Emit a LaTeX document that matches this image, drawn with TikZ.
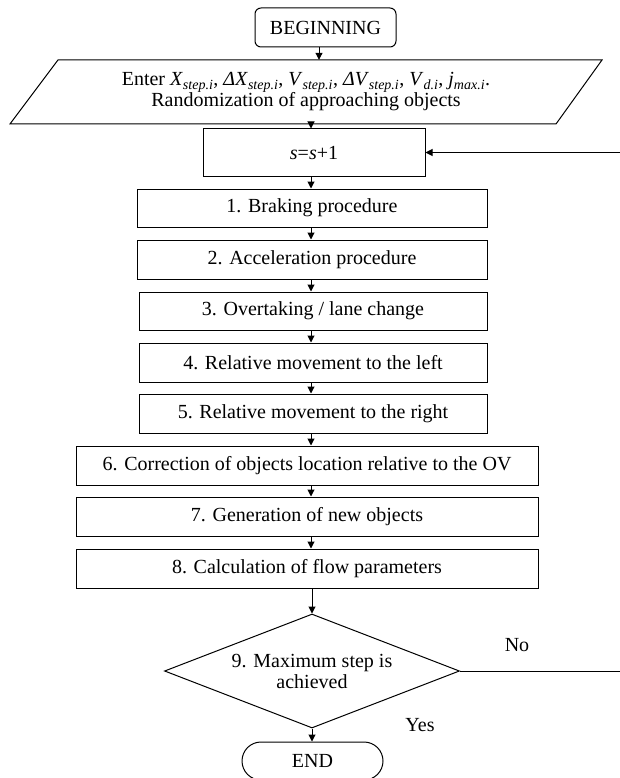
\documentclass[tikz,border=0pt]{standalone}
\usepackage{fontspec}
\setmainfont{Liberation Serif}
\usetikzlibrary{arrows.meta,shapes.geometric,calc}
\newcommand\vsub[2]{\textit{#1}\textsubscript{\textit{#2}}}
\begin{document}
\begin{tikzpicture}[x=1pt,y=-1pt,
  every node/.style={font=\fontsize{20}{21}\selectfont, inner sep=0pt},
  box/.style={draw, line width=1pt, align=center},
  arr/.style={-{Triangle[length=7pt,width=7pt]}, line width=1pt},
  ln/.style={line width=1pt},
  lbl/.style={anchor=center}]
\useasboundingbox (0,0) rectangle (619,778);

\node[box, rounded corners=6pt, minimum width=141pt, minimum height=39pt] (beg) at (325.5,27.5) {BEGINNING};
\node[align=center, minimum width=546pt, minimum height=64pt] (inp) at (306,92)
  {Enter \vsub{X}{step.i}, \vsub{ΔX}{step.i}, \vsub{V}{step.i}, \vsub{ΔV}{step.i}, \vsub{V}{d.i}, \vsub{j}{max.i}.\\Randomization of approaching objects};
\draw[ln] (58,60) -- (602,60) -- (556,124) -- (10,124) -- cycle;

\node[box, minimum width=222pt, minimum height=47pt] (s) at (314,152.5) {\textit{s}=\textit{s}+1};
\node[box, minimum width=350pt, minimum height=38pt] (b1) at (312,208) {1. Braking procedure};
\node[box, minimum width=350pt, minimum height=39pt] (b2) at (312,259.5) {2. Acceleration procedure};
\node[box, minimum width=348pt, minimum height=38pt] (b3) at (313,311) {3. Overtaking / lane change};
\node[box, minimum width=348pt, minimum height=39pt] (b4) at (313,362.5) {4. Relative movement to the left};
\node[box, minimum width=348pt, minimum height=39pt] (b5) at (313,413.5) {5. Relative movement to the right};
\node[box, minimum width=462pt, minimum height=39pt] (b6) at (307,465.5) {6. Correction of objects location relative to the OV};
\node[box, minimum width=462pt, minimum height=39pt] (b7) at (307,516.5) {7. Generation of new objects};
\node[box, minimum width=462pt, minimum height=39pt] (b8) at (307,568.5) {8. Calculation of flow parameters};
\node[draw, line width=1pt, diamond, aspect=2.59, minimum width=295pt, minimum height=114pt, align=center] (dia) at (312,671) {9. Maximum step is\\achieved};
\node[draw, line width=1pt, rounded corners=19pt, minimum width=141pt, minimum height=38pt] (end) at (312.5,761) {END};

\node[lbl] (no) at (517,645) {No};
\node[lbl] (yes) at (420,725) {Yes};

\coordinate (a0) at (319,0);
\coordinate (ax) at (311,0);
\coordinate (lr) at (623,0);
\draw[arr] (beg.south -| a0) -- (inp.north -| a0);
\draw[arr] (inp.south -| ax) -- (s.north -| ax);
\draw[arr] (s.south -| ax) -- (b1.north -| ax);
\draw[arr] (b1.south -| ax) -- (b2.north -| ax);
\draw[arr] (b2.south -| ax) -- (b3.north -| ax);
\draw[arr] (b3.south -| ax) -- (b4.north -| ax);
\draw[arr] (b4.south -| ax) -- (b5.north -| ax);
\draw[arr] (b5.south -| ax) -- (b6.north -| ax);
\draw[arr] (b6.south -| ax) -- (b7.north -| ax);
\draw[arr] (b7.south -| ax) -- (b8.north -| ax);
\draw[arr] (b8.south -| dia.north) -- (dia.north);
\draw[arr] (dia.south) -- (end.north -| dia.south);
\draw[arr] (dia.east) -- (dia.east -| lr) -- (s.east -| lr) -- (s.east);
\end{tikzpicture}
\end{document}
